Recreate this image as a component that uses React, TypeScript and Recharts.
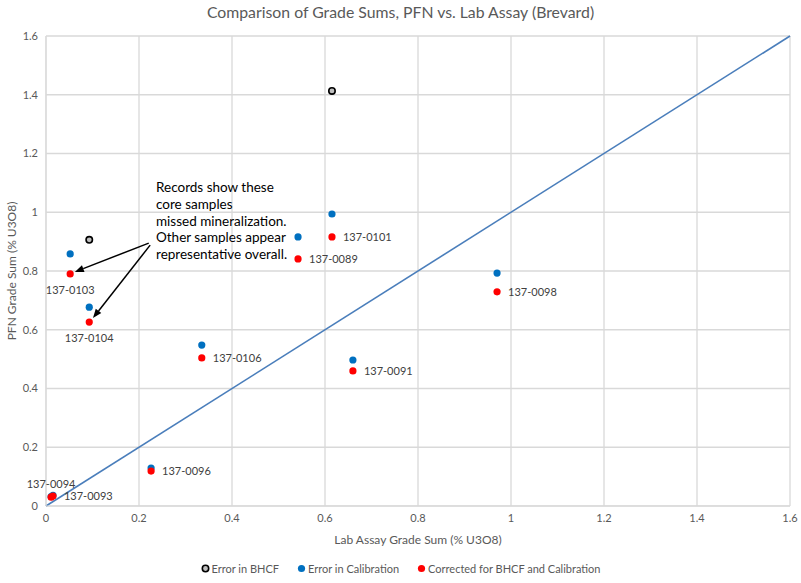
import {
  ScatterChart,
  Scatter,
  XAxis,
  YAxis,
  CartesianGrid,
  ReferenceLine,
} from "recharts";

const sampleIds = [
  "137-0101",
  "137-0089",
  "137-0098",
  "137-0106",
  "137-0091",
  "137-0096",
  "137-0093",
  "137-0094",
  "137-0103",
  "137-0104",
];
const labAssay = [0.615, 0.542, 0.97, 0.335, 0.66, 0.226, 0.015, 0.011, 0.052, 0.093];
const pfnCalibError = [0.994, 0.916, 0.793, 0.548, 0.497, 0.129, 0.036, 0.032, 0.858, 0.677];
const pfnCorrected = [0.916, 0.841, 0.729, 0.504, 0.46, 0.119, 0.034, 0.03, 0.79, 0.626];
const pfnBhcfError: (number | null)[] = [1.413, null, null, null, null, null, null, null, null, 0.906];

const axisTicks = [0, 0.2, 0.4, 0.6, 0.8, 1, 1.2, 1.4, 1.6];

// arrows from the note to the two flagged samples, [from, to] in data units
const noteArrows = [
  [{ x: 0.221, y: 0.895 }, { x: 0.062, y: 0.797 }],
  [{ x: 0.224, y: 0.888 }, { x: 0.101, y: 0.64 }],
];
const noteLines = [
  "Records show these",
  "core samples",
  "missed mineralization.",
  "Other samples appear",
  "representative overall.",
];

// where each sample's id sits relative to its corrected point
const labelSide: Record<string, "right" | "above" | "below"> = {
  "137-0094": "above",
  "137-0103": "below",
  "137-0104": "below",
};

const BLUE = "#0070c0";
const RED = "#ff0000";
const TEXT = "#595959";

const calibData = sampleIds.map((id, i) => ({ id, x: labAssay[i], y: pfnCalibError[i] }));
const correctedData = sampleIds.map((id, i) => ({ id, x: labAssay[i], y: pfnCorrected[i] }));
const bhcfData = sampleIds
  .map((id, i) => ({ id, x: labAssay[i], y: pfnBhcfError[i] }))
  .filter((d) => d.y !== null);

const dot = (fill: string) => (p: any) => <circle cx={p.cx} cy={p.cy} r={3.6} fill={fill} />;

const ring = (p: any) => (
  <circle cx={p.cx} cy={p.cy} r={3.2} fill="#bfbfbf" stroke="#000" strokeWidth={1.6} />
);

const labelledDot = (p: any) => {
  const id = p.payload?.id as string;
  const side = labelSide[id] ?? "right";
  let tx = p.cx + 11;
  let ty = p.cy + 4;
  let anchor: "start" | "middle" = "start";
  if (side === "above") {
    tx = p.cx;
    ty = p.cy - 9;
    anchor = "middle";
  } else if (side === "below") {
    tx = p.cx;
    ty = p.cy + 20;
    anchor = "middle";
  }
  return (
    <g>
      <circle cx={p.cx} cy={p.cy} r={3.6} fill={RED} />
      <text x={tx} y={ty} textAnchor={anchor} fontSize={11} fill="#404040">
        {id}
      </text>
    </g>
  );
};

const arrowShape = (p: any) => {
  const { x1, y1, x2, y2 } = p;
  const ang = Math.atan2(y2 - y1, x2 - x1);
  const len = 9;
  const w = 3.5;
  const bx = x2 - len * Math.cos(ang);
  const by = y2 - len * Math.sin(ang);
  const px = -Math.sin(ang) * w;
  const py = Math.cos(ang) * w;
  return (
    <g>
      <line x1={x1} y1={y1} x2={bx} y2={by} stroke="#000" strokeWidth={1.5} />
      <polygon points={`${x2},${y2} ${bx + px},${by + py} ${bx - px},${by - py}`} fill="#000" />
    </g>
  );
};

function LegendItem({ kind, label }: { kind: "ring" | "blue" | "red"; label: string }) {
  return (
    <span style={{ display: "inline-flex", alignItems: "center", margin: "0 9px" }}>
      <svg width={9} height={9} style={{ marginRight: 2 }}>
        {kind === "ring" ? (
          <circle cx={4.5} cy={4.5} r={3.2} fill="#bfbfbf" stroke="#000" strokeWidth={1.6} />
        ) : (
          <circle cx={4.5} cy={4.5} r={3.6} fill={kind === "blue" ? BLUE : RED} />
        )}
      </svg>
      {label}
    </span>
  );
}

export default function App() {
  return (
    <div
      style={{
        position: "absolute",
        left: 0,
        top: 0,
        width: 801,
        height: 583,
        background: "#fff",
        fontFamily: "Lato, 'Noto Sans', sans-serif",
        color: TEXT,
      }}
    >
      <div
        style={{
          position: "absolute",
          top: 2,
          width: 801,
          textAlign: "center",
          fontSize: 15.8,
        }}
      >
        Comparison of Grade Sums, PFN vs. Lab Assay (Brevard)
      </div>

      <ScatterChart width={801} height={583} margin={{ top: 36, right: 11, bottom: 47, left: 16 }}>
        <CartesianGrid stroke="#d9d9d9" strokeWidth={1.3} />
        <XAxis
          type="number"
          dataKey="x"
          domain={[0, 1.6]}
          ticks={axisTicks}
          tickLine={false}
          axisLine={{ stroke: "#d9d9d9" }}
          tick={{ fontSize: 11, fill: TEXT }}
          label={{
            value: "Lab Assay Grade Sum (% U3O8)",
            position: "insideBottom",
            offset: -8,
            fontSize: 12,
            fill: TEXT,
          }}
        />
        <YAxis
          type="number"
          dataKey="y"
          domain={[0, 1.6]}
          ticks={axisTicks}
          width={30}
          tickLine={false}
          axisLine={{ stroke: "#d9d9d9" }}
          tick={{ fontSize: 11, fill: TEXT }}
          label={{
            value: "PFN Grade Sum (% U3O8)",
            angle: -90,
            position: "insideLeft",
            offset: -4,
            fontSize: 12,
            fill: TEXT,
            style: { textAnchor: "middle" },
          }}
        />
        <ReferenceLine
          segment={[
            { x: 0, y: 0 },
            { x: 1.6, y: 1.6 },
          ]}
          stroke="#4a7ebb"
          strokeWidth={1.6}
        />
        <Scatter name="Error in BHCF" data={bhcfData} shape={ring} isAnimationActive={false} />
        <Scatter name="Error in Calibration" data={calibData} shape={dot(BLUE)} isAnimationActive={false} />
        <Scatter
          name="Corrected for BHCF and Calibration"
          data={correctedData}
          shape={labelledDot}
          isAnimationActive={false}
        />
        {noteArrows.map((seg, i) => (
          <ReferenceLine key={i} segment={seg} shape={arrowShape} />
        ))}
      </ScatterChart>

      <div
        style={{
          position: "absolute",
          left: 156,
          top: 179,
          fontSize: 13.5,
          lineHeight: "16.8px",
          color: "#000",
        }}
      >
        {noteLines.map((l) => (
          <div key={l}>{l}</div>
        ))}
      </div>

      <div
        style={{
          position: "absolute",
          top: 562,
          width: 801,
          display: "flex",
          justifyContent: "center",
          fontSize: 11,
          color: TEXT,
        }}
      >
        <LegendItem kind="ring" label="Error in BHCF" />
        <LegendItem kind="blue" label="Error in Calibration" />
        <LegendItem kind="red" label="Corrected for BHCF and Calibration" />
      </div>
    </div>
  );
}
